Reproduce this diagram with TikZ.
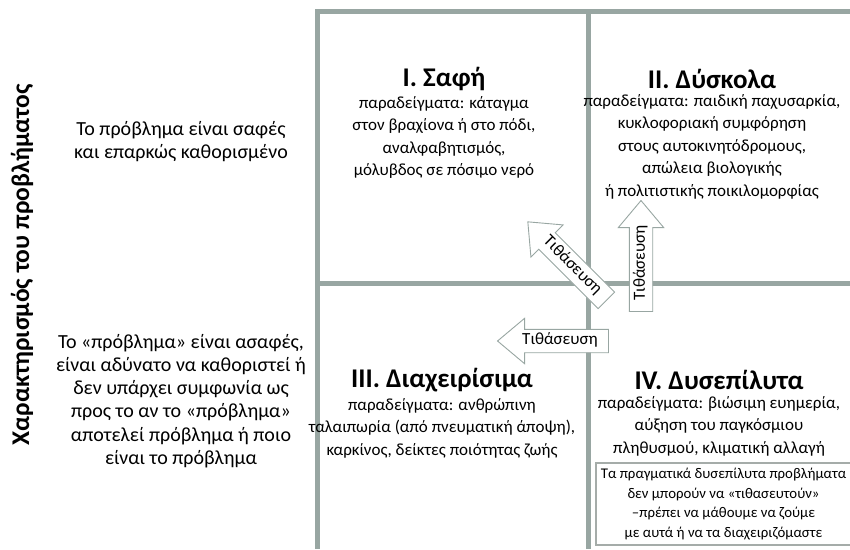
\documentclass[tikz,border=0pt]{standalone}
\usepackage{fontspec}
\setmainfont{Carlito}
\usetikzlibrary{positioning,shapes.arrows}

\definecolor{gridc}{RGB}{152,166,162}
\definecolor{notec}{RGB}{165,172,169}

\tikzset{
  grid/.style={draw=gridc, line width=5pt},
  head/.style={font=\fontsize{27}{29}\selectfont\bfseries, inner sep=0pt},
  quad/.style={align=center, font=\fontsize{17}{22.5}\selectfont, inner sep=0pt},
  side/.style={align=center, font=\fontsize{20}{23.2}\selectfont, inner sep=0pt},
  tarrow/.style={single arrow, draw=gridc, fill=white, line width=0.9pt,
    minimum height=111pt, single arrow head extend=11pt, single arrow tip angle=80,
    text height=11pt, text depth=3.5pt, inner ysep=4pt, inner xsep=4pt,
    font=\fontsize{17}{19}\selectfont},
}

\begin{document}
\begin{tikzpicture}[x=1pt, y=-1pt]
  \useasboundingbox (0,0) rectangle (850,549);

  % grid of the four quadrants
  \coordinate (tl) at (317.5,11.5);
  \coordinate (tr) at (850,11.5);
  \coordinate (bl) at (317.5,549);
  \coordinate (mt) at (588,11.5);
  \coordinate (mb) at (588,549);
  \coordinate (ml) at (317.5,283);
  \coordinate (mr) at (850,283);
  \draw[grid, line join=miter] (tr) -- (tl) -- (bl);
  \draw[grid] (mt) -- (mb);
  \draw[grid] (ml) -- (mr);

  % left side
  \node[font=\fontsize{25.5}{28}\selectfont\bfseries, rotate=90] (ylab) at (22,265)
    {Χαρακτηρισμός του προβλήματος};
  \node[side] (clear) at (181,141.5) {Το πρόβλημα είναι σαφές\\και επαρκώς καθορισμένο};
  \node[side] (vague) at (181,401) {Το «πρόβλημα» είναι ασαφές,\\είναι αδύνατο να καθοριστεί ή\\δεν υπάρχει συμφωνία ως\\προς το αν το «πρόβλημα»\\αποτελεί πρόβλημα ή ποιο\\είναι το πρόβλημα};

  % quadrants
  \node[head] (h1) at (444,79) {I. Σαφή};
  \node[quad, below=5pt of h1] (q1) {παραδείγματα: κάταγμα\\στον βραχίονα ή στο πόδι,\\αναλφαβητισμός,\\μόλυβδος σε πόσιμο νερό};
  \node[head] (h2) at (712,79) {II. Δύσκολα};
  \node[quad, below=5pt of h2] (q2) {παραδείγματα: παιδική παχυσαρκία,\\κυκλοφοριακή συμφόρηση\\στους αυτοκινητόδρομους,\\απώλεια βιολογικής\\ή πολιτιστικής ποικιλομορφίας};
  \node[head] (h3) at (442,380) {III. Διαχειρίσιμα};
  \node[quad, below=6pt of h3] (q3) {παραδείγματα: ανθρώπινη\\ταλαιπωρία (από πνευματική άποψη),\\καρκίνος, δείκτες ποιότητας ζωής};
  \node[head] (h4) at (719,380) {IV. Δυσεπίλυτα};
  \node[quad, below=6pt of h4] (q4) {παραδείγματα: βιώσιμη ευημερία,\\αύξηση του παγκόσμιου\\πληθυσμού, κλιματική αλλαγή};

  \node[draw=notec, line width=1.2pt, align=center, minimum width=255pt, minimum height=82pt,
    font=\fontsize{14.8}{19.5}\selectfont] (note) at (723.5,504)
    {Τα πραγματικά δυσεπίλυτα προβλήματα\\δεν μπορούν να «τιθασευτούν»\\–πρέπει να μάθουμε να ζούμε\\με αυτά ή να τα διαχειριζόμαστε};

  % taming arrows
  \node[tarrow, shape border rotate=180] (tameL) at (560,341) {Τιθάσευση};
  \node[tarrow, rotate=-45, shape border rotate=180] (tameD) at (572,266) {Τιθάσευση};
  \node[tarrow, rotate=90] (tameU) at (641,263) {Τιθάσευση};
\end{tikzpicture}
\end{document}
